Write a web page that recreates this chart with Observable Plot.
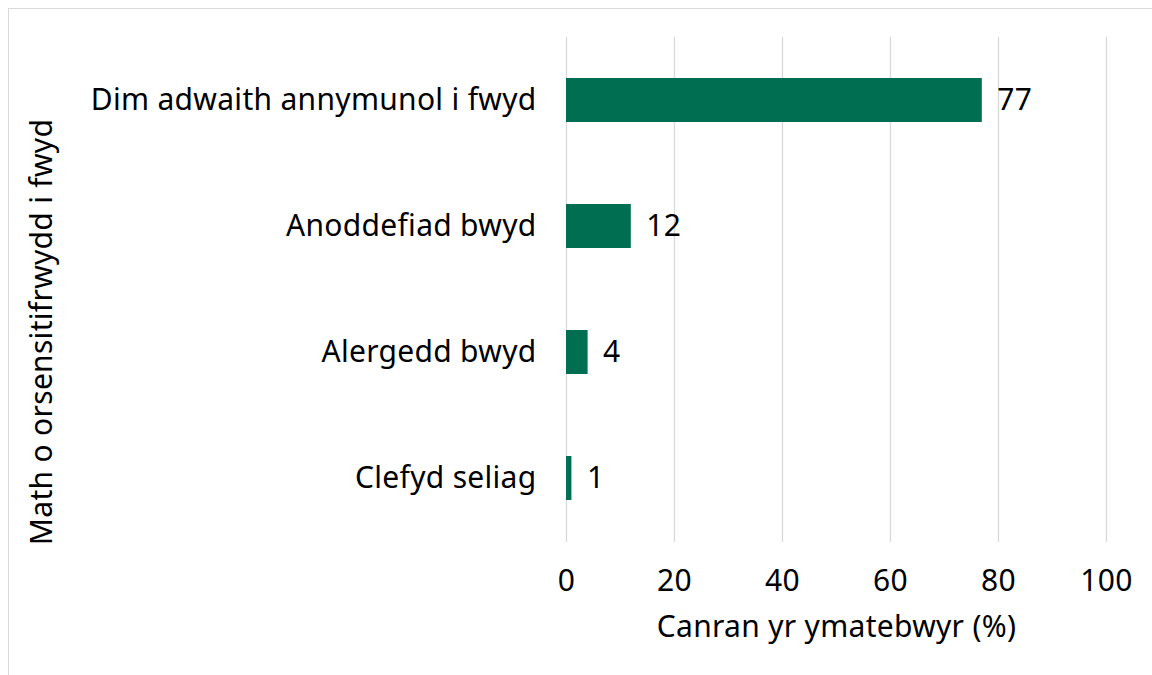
<!DOCTYPE html>
<html><head><meta charset="utf-8">
<script src="https://cdn.jsdelivr.net/npm/d3@7"></script>
<script src="https://cdn.jsdelivr.net/npm/@observablehq/plot@0.6"></script>
<style>
html,body{margin:0;padding:0;background:#fff;overflow:hidden;width:1152px;height:675px;}
#frame{position:absolute;left:8px;top:8px;width:1300px;height:800px;border-left:1px solid #d9d9d9;border-top:1px solid #d9d9d9;}
#chart{position:absolute;left:0;top:0;}
#chart svg text{letter-spacing:0.3px;}
</style></head>
<body><div id="frame"></div><div id="chart"></div>
<script>
const categories = ["Dim adwaith annymunol i fwyd", "Anoddefiad bwyd", "Alergedd bwyd", "Clefyd seliag"];
const values = [77, 12, 4, 1];
const xTicks = [0, 20, 40, 60, 80, 100];
const xTitle = "Canran yr ymatebwyr (%)";
const yTitle = "Math o orsensitifrwydd i fwyd";

const data = categories.map((c, i) => ({category: c, value: values[i]}));
const font = "'Noto Sans', sans-serif";
const fs = 30;
const chart = Plot.plot({
  width: 1152, height: 675,
  marginLeft: 566, marginRight: 46, marginTop: 37, marginBottom: 133,
  style: {fontFamily: font, fontSize: fs + "px", color: "#000", background: "transparent"},
  x: {domain: [0, 100], ticks: xTicks},
  y: {domain: categories, paddingInner: 0.65, paddingOuter: 0.325},
  marks: [
    Plot.gridX(xTicks, {stroke: "#d9d9d9", strokeOpacity: 1, strokeWidth: 1.3}),
    Plot.barX(data, {y: "category", x: "value", fill: "#006f51"}),
    Plot.text(data, {y: "category", x: "value", text: d => String(d.value), textAnchor: "start", dx: 15, fontSize: fs, fill: "#000"}),
    Plot.axisX({ticks: xTicks, tickSize: 0, tickPadding: 27, fontSize: fs, label: null}),
    Plot.axisY({tickSize: 0, tickPadding: 30, fontSize: fs, label: null}),
    Plot.text([xTitle], {frameAnchor: "bottom", dy: 94, fontSize: fs, fill: "#000"}),
    Plot.text([yTitle], {frameAnchor: "left", textAnchor: "middle", dx: -524, dy: 42, rotate: -90, fontSize: fs, fill: "#000"})
  ]
});
document.getElementById("chart").appendChild(chart);
</script></body></html>
